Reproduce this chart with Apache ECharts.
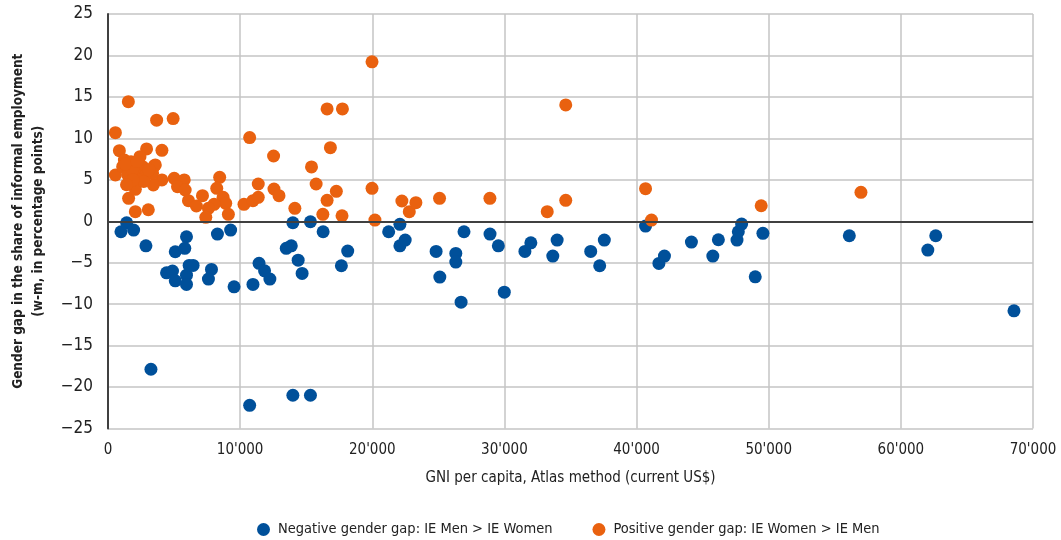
<!DOCTYPE html>
<html>
<head>
<meta charset="utf-8">
<script src="https://cdn.jsdelivr.net/npm/echarts@6/dist/echarts.min.js"></script>
<style>html,body{margin:0;padding:0;background:#fff}#c{width:1061px;height:540px}</style>
</head>
<body>
<div id="c"></div>
<script>
// Data: [GNI per capita (US$), gender gap (pp)]
const negativeGap = [
  [1410,-0.18],[980,-1.27],[1940,-1.06],[2870,-2.96],[5940,-1.87],[5090,-3.68],[5810,-3.27],
  [8280,-1.55],[9280,-1.06],[4430,-6.22],[4880,-6.01],[5090,-7.19],[5940,-6.5],[6140,-5.33],
  [6440,-5.33],[5940,-7.62],[7830,-5.81],[7600,-6.98],[9540,-7.91],[11430,-5.08],[11850,-5.98],
  [12250,-6.98],[10970,-7.62],[13990,-0.18],[15320,-0.06],[16280,-1.27],[13490,-3.27],[13870,-2.96],
  [14390,-4.69],[14690,-6.29],[17660,-5.37],[18140,-3.6],[3250,-17.85],[10720,-22.2],[13990,-20.99],
  [15320,-20.99],[21240,-1.27],[22090,-0.37],[22090,-2.96],[22490,-2.27],[24830,-3.64],[25110,-6.74],
  [26320,-3.88],[26320,-4.93],[26720,-9.76],[26940,-1.27],[28910,-1.55],[29540,-2.96],[29990,-8.55],
  [31550,-3.64],[32000,-2.6],[33660,-4.2],[33990,-2.27],[36530,-3.64],[37210,-5.37],[37560,-2.27],
  [40680,-0.58],[41690,-5.09],[42110,-4.2],[44150,-2.51],[45770,-4.2],[46190,-2.23],[47600,-2.27],
  [47700,-1.27],[47950,-0.34],[48980,-6.7],[49560,-1.46],[56100,-1.75],[62040,-3.48],[62640,-1.75],
  [68560,-10.81]
];
const positiveGap = [
  [560,10.69],[1540,14.43],[3680,12.19],[4930,12.38],[10720,10.09],[860,8.51],[2920,8.72],[4080,8.56],
  [560,5.58],[3500,6.67],[4080,4.98],[3430,4.37],[5010,5.18],[5770,4.98],[5260,4.17],[5840,3.77],
  [8450,5.3],[8230,3.97],[7150,3.08],[6090,2.48],[6690,1.84],[8710,2.89],[8910,2.16],[8030,2.04],
  [7600,1.56],[7400,0.47],[9110,0.83],[1560,2.77],[2070,1.15],[3050,1.39],[10290,2.04],[10970,2.48],
  [11370,2.89],[11370,4.49],[12560,3.89],[12940,3.08],[12530,7.87],
  [1240,7.39],[1740,7.19],[2420,7.79],[1110,6.58],[1990,6.39],[2620,6.58],[3580,6.79],[1490,5.58],
  [2240,5.58],[2870,5.58],[1610,4.77],[2370,4.98],[3370,5.78],[2070,3.85],[1860,6.18],[1300,6.9],
  [2200,7.2],[2700,4.8],[1900,5.0],[3100,6.2],[1400,4.4],
  [16580,13.55],[17740,13.55],[16830,8.88],[15400,6.55],[15750,4.49],[17280,3.61],[16580,2.52],
  [14140,1.56],[16260,0.83],[17710,0.66],[19980,3.97],[20200,0.14],[22240,2.44],[22800,1.15],
  [19980,19.23],[34640,14.03],[23300,2.24],[25090,2.76],[28900,2.76],[33240,1.15],[34640,2.52],
  [40680,3.93],[41130,0.14],[49430,1.87],[56980,3.49]
];
const seriesNames = ['Negative gender gap: IE Men > IE Women','Positive gender gap: IE Women > IE Men'];
const xTitle = 'GNI per capita, Atlas method (current US$)';
const yTitle = 'Gender gap in the share of informal employment\n(w-m, in percentage points)';

const FONT = '"Liberation Sans Narrow","DejaVu Sans Condensed","Roboto",sans-serif';
const chart = echarts.init(document.getElementById('c'), null, {renderer:'canvas'});
chart.setOption({
  animation:false,
  backgroundColor:'#fff',
  textStyle:{fontFamily:FONT},
  grid:{left:105,right:28,top:14,bottom:111.5,containLabel:false},
  legend:{
    data:seriesNames,
    top:517, left:252,
    icon:'circle', itemWidth:13, itemHeight:13, itemGap:40,
    textStyle:{fontFamily:FONT,fontSize:14.5,color:'#222',padding:[0,0,0,3]}
  },
  xAxis:{
    type:'value', min:0, max:70000, interval:10000,
    name:xTitle, nameLocation:'middle', nameGap:42,
    nameTextStyle:{fontFamily:FONT,fontSize:15,color:'#222'},
    axisLine:{show:false}, axisTick:{show:false},
    axisLabel:{margin:14,fontFamily:FONT,fontSize:15,color:'#222',
      formatter:v=>String(v).replace(/\B(?=(\d{3})+(?!\d))/g,"'")},
    splitLine:{show:true,lineStyle:{color:'#c4c4c4',width:1.5}}
  },
  yAxis:{
    type:'value', min:-25, max:25, interval:5,
    name:yTitle, nameLocation:'middle', nameRotate:90, nameGap:60,
    nameTextStyle:{fontFamily:FONT,fontSize:13.5,fontWeight:'bold',color:'#222',lineHeight:20},
    axisLine:{show:true,onZero:false,lineStyle:{color:'#404040',width:2}},
    axisTick:{show:false},
    axisLabel:{margin:15,fontFamily:FONT,fontSize:17,color:'#222',
      formatter:v=>String(v).replace('-','\u2212')},
    splitLine:{show:true,lineStyle:{color:'#c4c4c4',width:1.5}}
  },
  series:[
    {name:seriesNames[0],type:'scatter',data:negativeGap,symbolSize:13,
      itemStyle:{color:'#00509a',opacity:1},
      markLine:{silent:true,symbol:'none',label:{show:false},
        lineStyle:{color:'#404040',width:2,type:'solid'},data:[{yAxis:0}]}},
    {name:seriesNames[1],type:'scatter',data:positiveGap,symbolSize:13,
      itemStyle:{color:'#e9610f',opacity:1}}
  ]
});
</script>
</body>
</html>
